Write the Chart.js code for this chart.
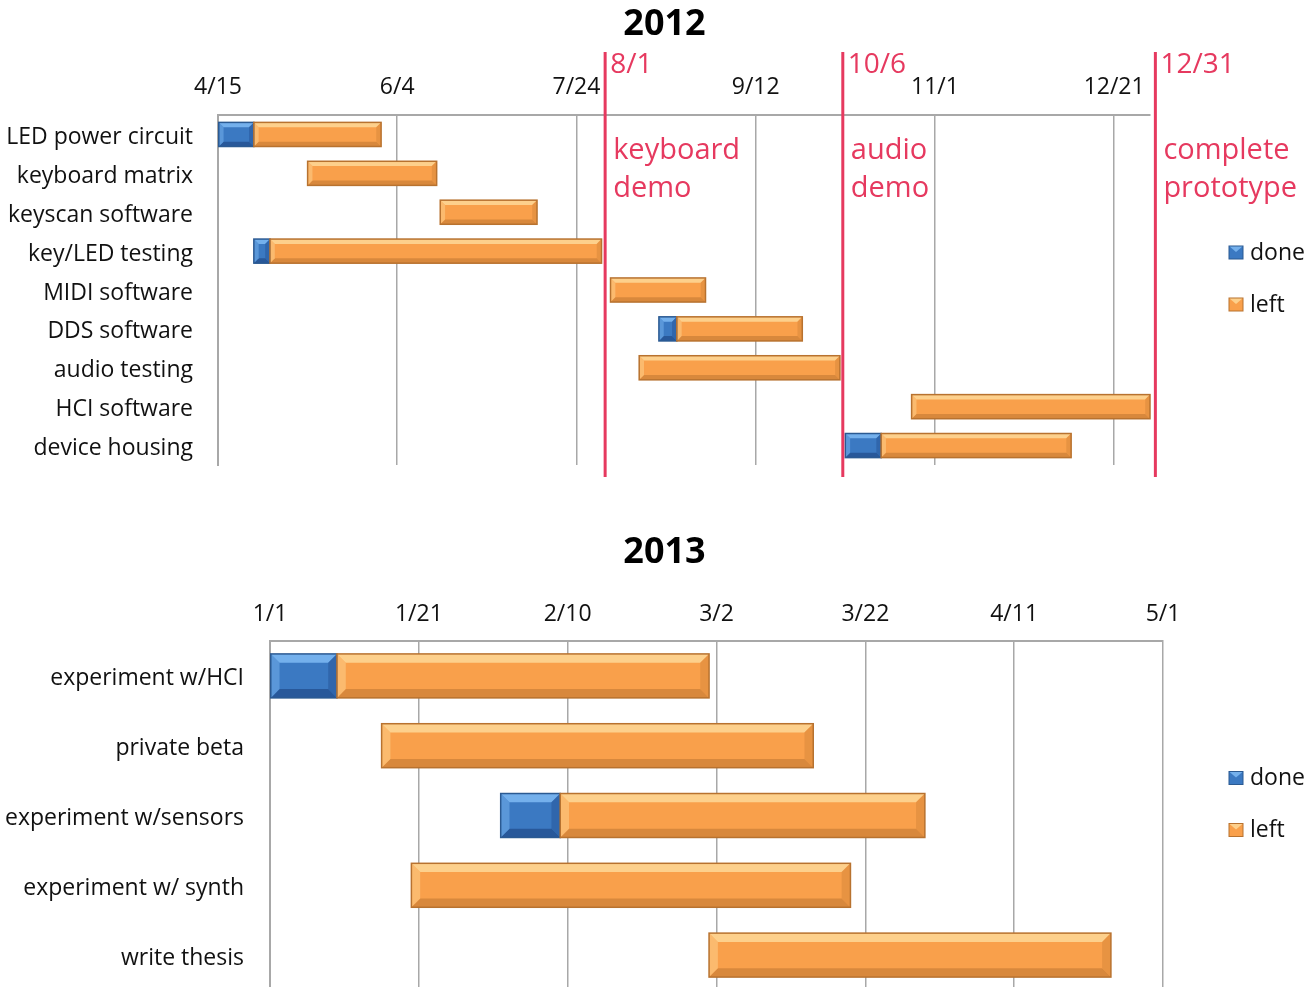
<!DOCTYPE html>
<html>
<head>
<meta charset="utf-8">
<script src="https://cdn.jsdelivr.net/npm/chart.js@4.4.0/dist/chart.umd.min.js"></script>
<style>
  html, body { margin: 0; padding: 0; background: #fff; overflow: hidden; }
  body { width: 1315px; height: 987px; position: relative; overflow: hidden; }
  .box { position: absolute; left: 0; width: 1329px; }
</style>
</head>
<body>
<div class="box" style="top:0; height:490px;"><canvas id="chart2012"></canvas></div>
<div class="box" style="top:500px; height:490px;"><canvas id="chart2013"></canvas></div>

<script>
// ---- 2012 (days counted from 4/15) ----
const tasks2012 = ['LED power circuit', 'keyboard matrix', 'keyscan software', 'key/LED testing',
                   'MIDI software', 'DDS software', 'audio testing', 'HCI software', 'device housing'];
const done2012 = [[0, 10], null, null, [10, 14.5], null, [123, 128], null, null, [175, 185]];
const left2012 = [[10, 45.5], [25, 61], [62, 89], [14.5, 107], [109.5, 136], [128, 163],
                  [117.5, 173.5], [193.5, 260], [185, 238]];
const tickDays2012 = [0, 50, 100, 150, 200, 250];
const tickLabels2012 = ['4/15', '6/4', '7/24', '9/12', '11/1', '12/21'];
const milestoneDays = [108, 174.3, 261.5];
const milestoneDates = ['8/1', '10/6', '12/31'];
const milestoneNames = [['keyboard', 'demo'], ['audio', 'demo'], ['complete', 'prototype']];

// ---- 2013 (days counted from 1/1) ----
const tasks2013 = ['experiment w/HCI', 'private beta', 'experiment w/sensors', 'experiment w/ synth', 'write thesis'];
const done2013 = [[0, 9], null, [31, 39], null, null];
const left2013 = [[9, 59], [15, 73], [39, 88], [19, 78], [59, 113]];
const tickDays2013 = [0, 20, 40, 60, 80, 100, 120];
const tickLabels2013 = ['1/1', '1/21', '2/10', '3/2', '3/22', '4/11', '5/1'];

const FONT = '"Open Sans", "Noto Sans", sans-serif';
const RED = '#E6395F';
const GRID = '#A8A8A8';

const palette = {
    done: { body: '#3B79C2', light: '#74B0EC', dark: '#28589A', border: '#2B5A92' },
    left: { body: '#F9A04B', light: '#FDD08C', dark: '#D8883C', border: '#B8722F' }
};

// bevelled look drawn on top of each bar the library has placed
const bevelPlugin = {
    id: 'bevel',
    afterDatasetsDraw(chart) {
        const ctx = chart.ctx;
        chart.data.datasets.forEach((ds, i) => {
            const c = palette[ds.key];
            if (!c) return;
            chart.getDatasetMeta(i).data.forEach(el => {
                if (el.skip) return;
                const p = el.getProps(['x', 'y', 'base', 'height'], true);
                const l = Math.min(p.x, p.base), r = Math.max(p.x, p.base);
                const t = p.y - p.height / 2, b = p.y + p.height / 2;
                if (r - l < 1) return;
                const bv = Math.min(p.height * 0.2, (r - l) / 2);
                ctx.save();
                ctx.fillStyle = c.light;
                ctx.beginPath();
                ctx.moveTo(l, t); ctx.lineTo(r, t); ctx.lineTo(r - bv, t + bv); ctx.lineTo(l + bv, t + bv);
                ctx.closePath(); ctx.fill();
                ctx.fillStyle = c.dark;
                ctx.beginPath();
                ctx.moveTo(l, b); ctx.lineTo(r, b); ctx.lineTo(r - bv, b - bv); ctx.lineTo(l + bv, b - bv);
                ctx.closePath(); ctx.fill();
                ctx.globalAlpha = 0.55;
                ctx.beginPath();
                ctx.moveTo(r, t); ctx.lineTo(r, b); ctx.lineTo(r - bv, b - bv); ctx.lineTo(r - bv, t + bv);
                ctx.closePath(); ctx.fill();
                ctx.fillStyle = c.light;
                ctx.beginPath();
                ctx.moveTo(l, t); ctx.lineTo(l, b); ctx.lineTo(l + bv, b - bv); ctx.lineTo(l + bv, t + bv);
                ctx.closePath(); ctx.fill();
                ctx.globalAlpha = 1;
                ctx.strokeStyle = c.border;
                ctx.lineWidth = 1.5;
                ctx.strokeRect(l, t, r - l, b - t);
                ctx.restore();
            });
        });
    }
};

// small legend at the right of the plot
const sideLegend = {
    id: 'sideLegend',
    afterDraw(chart, args, opts) {
        const ctx = chart.ctx;
        const area = chart.chartArea;
        const cx = area.right + opts.offset;
        const mid = (area.top + area.bottom) / 2 - 11;
        chart.data.datasets.forEach((ds, i) => {
            const c = palette[ds.key];
            const y = mid + (i === 0 ? -26 : 26);
            ctx.save();
            ctx.fillStyle = c.body;
            ctx.fillRect(cx, y - 7, 14, 13);
            ctx.fillStyle = c.light;
            ctx.beginPath();
            ctx.moveTo(cx, y - 7); ctx.lineTo(cx + 14, y - 7); ctx.lineTo(cx + 7, y - 1);
            ctx.closePath(); ctx.fill();
            ctx.strokeStyle = c.border;
            ctx.lineWidth = 1;
            ctx.strokeRect(cx, y - 7, 14, 13);
            ctx.fillStyle = '#111';
            ctx.font = '23px ' + FONT;
            ctx.textAlign = 'left';
            ctx.textBaseline = 'middle';
            ctx.fillText(ds.label, cx + 21, y);
            ctx.restore();
        });
    }
};

// red milestone lines with their captions
const milestonePlugin = {
    id: 'milestones',
    afterDraw(chart, args, opts) {
        if (!opts.days) return;
        const ctx = chart.ctx;
        const xs = chart.scales.x;
        const area = chart.chartArea;
        opts.days.forEach((d, i) => {
            const x = xs.getPixelForValue(d);
            ctx.save();
            ctx.strokeStyle = RED;
            ctx.lineWidth = 3;
            ctx.beginPath();
            ctx.moveTo(x, 52);
            ctx.lineTo(x, area.bottom + 12);
            ctx.stroke();
            ctx.fillStyle = RED;
            ctx.textAlign = 'left';
            ctx.textBaseline = 'middle';
            ctx.font = '28px ' + FONT;
            ctx.fillText(opts.dates[i], x + 5, 65);
            ctx.font = '29px ' + FONT;
            opts.names[i].forEach((line, j) => {
                ctx.fillText(line, x + 8, 151 + j * 38);
            });
            ctx.restore();
        });
    }
};

function makeGantt(id, cfg) {
    const ctx = document.getElementById(id).getContext('2d');
    return new Chart(ctx, {
        type: 'bar',
        data: {
            labels: cfg.tasks,
            datasets: [
                { key: 'done', label: 'done', data: cfg.done, backgroundColor: palette.done.body,
                  grouped: false, barPercentage: cfg.barPct, categoryPercentage: 1, order: 0 },
                { key: 'left', label: 'left', data: cfg.left, backgroundColor: palette.left.body,
                  grouped: false, barPercentage: cfg.barPct, categoryPercentage: 1, order: 1 }
            ]
        },
        options: {
            indexAxis: 'y',
            responsive: true,
            maintainAspectRatio: false,
            animation: false,
            layout: { padding: cfg.padding },
            scales: {
                x: {
                    type: 'linear',
                    position: 'top',
                    min: 0,
                    max: cfg.max,
                    afterBuildTicks: (scale) => { scale.ticks = cfg.tickDays.map(v => ({ value: v })); },
                    afterFit: (scale) => {
                        scale.height = cfg.xHeight;
                        scale.paddingLeft = 0;
                        scale.paddingRight = 0;
                    },
                    ticks: {
                        padding: cfg.tickPad,
                        maxRotation: 0,
                        autoSkip: false,
                        color: '#111',
                        font: { family: FONT, size: 23 },
                        callback: (v, i) => cfg.tickLabels[i]
                    },
                    grid: { color: GRID, lineWidth: 1.5, drawTicks: false },
                    border: { display: true, color: GRID, width: 2 }
                },
                y: {
                    afterFit: (scale) => {
                        scale.width = cfg.yWidth;
                        scale.paddingTop = 0;
                        scale.paddingBottom = 0;
                    },
                    ticks: {
                        padding: cfg.yPad,
                        labelOffset: 3,
                        color: '#111',
                        font: { family: FONT, size: 23 }
                    },
                    grid: { display: false, drawTicks: false },
                    border: { display: true, color: GRID, width: 2 }
                },
                // empty strip on the right that holds the legend and captions
                side: {
                    type: 'linear',
                    axis: 'y',
                    position: 'right',
                    display: true,
                    afterFit: (scale) => {
                        scale.width = cfg.sideWidth;
                        scale.paddingTop = 0;
                        scale.paddingBottom = 0;
                    },
                    ticks: { display: false },
                    grid: { display: false, drawTicks: false },
                    border: { display: false }
                }
            },
            plugins: {
                legend: { display: false },
                tooltip: { enabled: false },
                title: {
                    display: true,
                    text: cfg.title,
                    color: '#000',
                    font: { family: FONT, size: 36, weight: 'bold' },
                    padding: cfg.titlePad
                },
                sideLegend: { offset: cfg.legendOffset },
                milestones: cfg.milestones || {}
            }
        },
        plugins: [bevelPlugin, sideLegend, milestonePlugin]
    });
}

makeGantt('chart2012', {
    title: '2012',
    tasks: tasks2012, done: done2012, left: left2012,
    max: 260, tickDays: tickDays2012, tickLabels: tickLabels2012,
    barPct: 0.62,
    padding: { left: 0, right: 0, top: 0, bottom: 25 },
    titlePad: { top: 3, bottom: 0 },
    xHeight: 68.8, tickPad: 14,
    yWidth: 218, yPad: 25,
    sideWidth: 1329 - 1150,
    legendOffset: 79,
    milestones: { days: milestoneDays, dates: milestoneDates, names: milestoneNames }
});

makeGantt('chart2013', {
    title: '2013',
    tasks: tasks2013, done: done2013, left: left2013,
    max: 120, tickDays: tickDays2013, tickLabels: tickLabels2013,
    barPct: 0.63,
    padding: { left: 0, right: 0, top: 0, bottom: 0 },
    titlePad: { top: 31, bottom: 0 },
    xHeight: 66.8, tickPad: 13,
    yWidth: 270, yPad: 26,
    sideWidth: 1329 - 1163,
    legendOffset: 66
});
</script>
</body>
</html>
